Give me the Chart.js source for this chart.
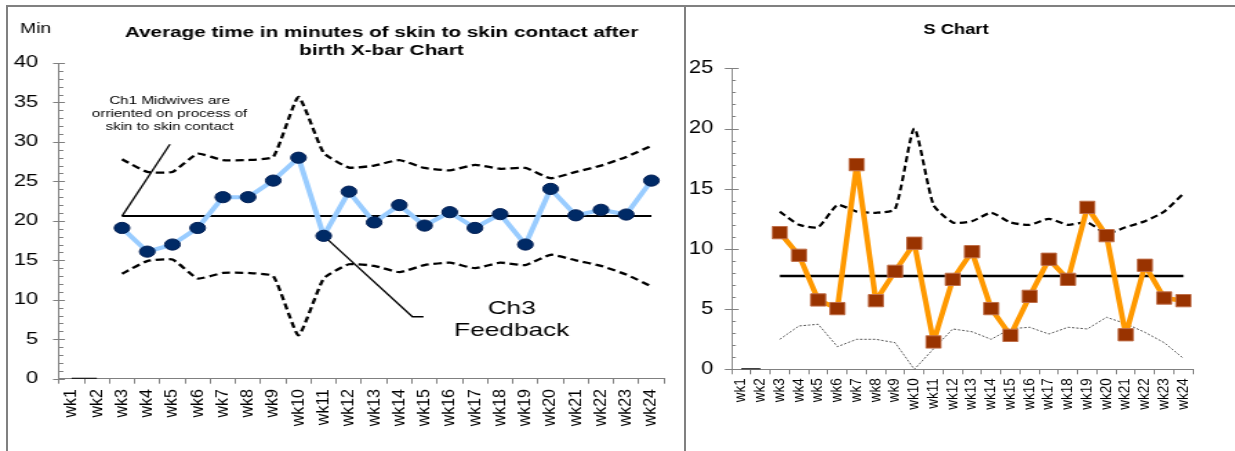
<!DOCTYPE html>
<html>
<head>
<meta charset="utf-8">
<script src="https://cdn.jsdelivr.net/npm/chart.js"></script>
<style>
  html, body { margin:0; padding:0; background:#fff; width:1235px; height:451px; overflow:hidden; }
  .wrap { position:absolute; top:0; transform-origin:0 0; }
  .panel { position:absolute; box-sizing:border-box; border:2px solid #808080; pointer-events:none; }
</style>
</head>
<body>
<div class="wrap" id="w1" style="left:0px; transform:scaleX(1.38);"><canvas id="c1" width="496" height="451"></canvas></div>
<div class="wrap" id="w2" style="left:684px; transform:scaleX(1.22);"><canvas id="c2" width="452" height="451"></canvas></div>
<div class="panel" style="left:6px; top:5px; width:680px; height:520px;"></div>
<div class="panel" style="left:684px; top:5px; width:620px; height:520px;"></div>
<script>
// ---------------- data ----------------
const weeks = ['wk1','wk2','wk3','wk4','wk5','wk6','wk7','wk8','wk9','wk10','wk11','wk12',
               'wk13','wk14','wk15','wk16','wk17','wk18','wk19','wk20','wk21','wk22','wk23','wk24'];

// X-bar chart (minutes)
const xbarMeans = [null,null,19.1,16.1,17.0,19.1,23.0,23.0,25.1,28.0,18.1,23.7,19.8,22.0,19.4,21.1,19.1,20.85,17.0,24.05,20.7,21.4,20.8,25.1];
const xbarCL    = [null,null,20.6,20.6,20.6,20.6,20.6,20.6,20.6,20.6,20.6,20.6,20.6,20.6,20.6,20.6,20.6,20.6,20.6,20.6,20.6,20.6,20.6,20.6];
const xbarUCL   = [null,null,27.8,26.2,26.2,28.5,27.7,27.7,28.1,35.7,28.6,26.75,27.0,27.7,26.7,26.4,27.1,26.6,26.7,25.4,26.2,27.0,28.1,29.5];
const xbarLCL   = [null,null,13.3,14.9,15.1,12.7,13.4,13.4,13.0,5.5,12.7,14.5,14.3,13.5,14.4,14.7,14.0,14.7,14.4,15.7,15.0,14.3,13.2,11.7];
const xbarZero  = [0,0,null,null,null,null,null,null,null,null,null,null,null,null,null,null,null,null,null,null,null,null,null,null];
const xbarTicks = { min:0, max:40, step:5 };

// S chart
const sValues = [null,null,11.35,9.47,5.76,5.04,17.0,5.7,8.14,10.47,2.27,7.47,9.77,5.04,2.82,6.06,9.14,7.47,13.45,11.1,2.87,8.64,5.92,5.7];
const sCL     = [null,null,7.75,7.75,7.75,7.75,7.75,7.75,7.75,7.75,7.75,7.75,7.75,7.75,7.75,7.75,7.75,7.75,7.75,7.75,7.75,7.75,7.75,7.75];
const sUCL    = [null,null,13.1,12.0,11.8,13.65,13.1,13.0,13.3,20.0,13.65,12.2,12.3,13.0,12.2,12.0,12.5,12.0,12.2,11.3,11.8,12.3,13.1,14.6];
const sLCL    = [null,null,2.49,3.6,3.74,1.88,2.49,2.49,2.21,0,1.7,3.35,3.12,2.49,3.37,3.49,2.93,3.49,3.35,4.32,3.79,3.07,2.21,0.91];
const sZero   = [0,0,null,null,null,null,null,null,null,null,null,null,null,null,null,null,null,null,null,null,null,null,null,null];
const sTicks  = { min:0, max:25, step:5 };

// texts
const xbarTitle = ['Average time in minutes of skin to skin contact after', 'birth X-bar Chart'];
const xbarUnit = 'Min';
const sTitle = ['S Chart'];
const note1 = ['Ch1 Midwives are', 'orriented on process of', 'skin to skin contact'];
const note3 = ['Ch3', 'Feedback'];

// ---------------- helpers ----------------
const FONT = "'Liberation Sans', Arial, Helvetica, sans-serif";
Chart.defaults.font.family = FONT;
Chart.defaults.color = '#000';
const AXIS = '#808080';

function line(ctx, pts, w, color) {
  ctx.save(); ctx.strokeStyle = color; ctx.lineWidth = w; ctx.beginPath();
  pts.forEach((p, i) => i ? ctx.lineTo(p[0], p[1]) : ctx.moveTo(p[0], p[1]));
  ctx.stroke(); ctx.restore();
}

function decor(cfg) {
  return {
    id: 'decor_' + cfg.name,
    beforeDatasetsDraw(chart) {
      if (cfg.under) cfg.under(chart);
    },
    afterDraw(chart) {
      const ctx = chart.ctx, xs = chart.scales.x, ys = chart.scales.y;
      const ax = chart.chartArea.left;
      ctx.save(); ctx.strokeStyle = AXIS; ctx.lineWidth = 1;
      for (let v = cfg.ticks.min; v <= cfg.ticks.max; v += 1) {
        const y = Math.round(ys.getPixelForValue(v)) + 0.5;
        ctx.beginPath();
        if (v % cfg.ticks.step === 0) { ctx.moveTo(ax - cfg.major, y); ctx.lineTo(ax + cfg.major, y); }
        else { ctx.moveTo(ax, y); ctx.lineTo(ax + cfg.minor, y); }
        ctx.stroke();
      }
      ctx.restore();
      ctx.save(); ctx.fillStyle = '#000'; ctx.font = cfg.xFont + 'px ' + FONT;
      weeks.forEach((w, i) => {
        const x = xs.getPixelForValue(i);
        ctx.save(); ctx.translate(x, xs.top + cfg.xPad); ctx.scale(cfg.xStretch / cfg.S, 1);
        ctx.rotate(-Math.PI / 2); ctx.textAlign = 'right'; ctx.textBaseline = 'middle';
        ctx.fillText(w, 0, 0); ctx.restore();
      });
      ctx.restore();
      if (cfg.over) cfg.over(chart);
    }
  };
}

function baseScales(t, yW, xH, xFont, yFont) {
  return {
    x: { type: 'category', offset: true,
         grid: { display: true, offset: true, drawOnChartArea: false, drawTicks: true, tickLength: 5, color: AXIS, lineWidth: 1 },
         border: { display: true, color: AXIS, width: 1 },
         ticks: { color: 'rgba(0,0,0,0)', autoSkip: false, minRotation: 90, maxRotation: 90, font: { size: xFont } },
         afterFit(s) { s.height = xH; } },
    y: { min: t.min, max: t.max,
         ticks: { stepSize: t.step, padding: 15, color: '#000', font: { size: yFont } },
         grid: { display: false, drawTicks: false },
         border: { display: true, color: AXIS, width: 1 },
         afterFit(s) { s.width = yW; } }
  };
}

// ---------------- X-bar chart ----------------
const S1 = 1.38;
new Chart(document.getElementById('c1'), {
  type: 'line',
  data: {
    labels: weeks,
    datasets: [
      { label: 'Mean', data: xbarMeans, order: 0, borderColor: '#99CCFF', borderWidth: 4, borderJoinStyle: 'round',
        pointRadius: 5.6, pointBackgroundColor: '#002a66', pointBorderColor: '#001f55', pointBorderWidth: 1, tension: 0 },
      { label: 'CL', data: xbarCL, order: 1, borderColor: '#000', borderWidth: 2, pointRadius: 0 },
      { label: 'UCL', data: xbarUCL, order: 2, borderColor: '#000', borderWidth: 2.3, borderDash: [6, 3.5], pointRadius: 0, tension: 0.15 },
      { label: 'LCL', data: xbarLCL, order: 2, borderColor: '#000', borderWidth: 2.3, borderDash: [6, 3.5], pointRadius: 0, tension: 0.15 },
      { label: 'base', data: xbarZero, order: 1, borderColor: '#000', borderWidth: 2, pointRadius: 0 }
    ]
  },
  options: {
    responsive: false, animation: false, devicePixelRatio: 1,
    layout: { padding: { left: 0, top: 63, right: 496 - 664 / S1, bottom: 0 } },
    plugins: { legend: { display: false }, tooltip: { enabled: false }, title: { display: false } },
    scales: baseScales(xbarTicks, 59 / S1, 451 - 378.7, 16, 16)
  },
  plugins: [decor({
    name: 'xbar', S: S1, ticks: xbarTicks, major: 4.3, minor: 3.2, xFont: 16, xPad: 10.3, xStretch: 1.08,
    under(chart) {
      const xs = chart.scales.x, ys = chart.scales.y;
      const P = (i, v) => [xs.getPixelForValue(i), ys.getPixelForValue(v)];
      line(chart.ctx, [P(2, xbarCL[2]), P(3.9, 29.7)], 1.3, '#000');
      line(chart.ctx, [P(10, xbarMeans[10]), P(13.52, 7.85), P(13.96, 7.85)], 1.3, '#000');
    },
    over(chart) {
      const ctx = chart.ctx, xs = chart.scales.x, ys = chart.scales.y;
      ctx.save(); ctx.fillStyle = '#000';
      ctx.font = 'bold 15px ' + FONT; ctx.textAlign = 'center'; ctx.textBaseline = 'alphabetic';
      ctx.fillText(xbarTitle[0], 381.5 / S1, 37.3);
      ctx.fillText(xbarTitle[1], 381.5 / S1, 55);
      ctx.font = '14px ' + FONT; ctx.textAlign = 'left';
      ctx.fillText(xbarUnit, 20 / S1, 33.3);
      ctx.font = '11px ' + FONT; ctx.textAlign = 'center';
      const n1 = [34.86, 33.22, 31.57];
      note1.forEach((t, i) => ctx.fillText(t, xs.getPixelForValue(3.885), ys.getPixelForValue(n1[i])));
      ctx.font = '19px ' + FONT;
      const n3 = [8.19, 5.4];
      note3.forEach((t, i) => ctx.fillText(t, xs.getPixelForValue(17.46), ys.getPixelForValue(n3[i])));
      ctx.restore();
    }
  })]
});

// ---------------- S chart ----------------
const S2 = 1.22;
new Chart(document.getElementById('c2'), {
  type: 'line',
  data: {
    labels: weeks,
    datasets: [
      { label: 'S', data: sValues, order: 0, borderColor: '#FF9900', borderWidth: 4.5, borderJoinStyle: 'round',
        pointStyle: 'rect', pointRadius: 8.7, pointBackgroundColor: '#993300', pointBorderColor: '#c0704a', pointBorderWidth: 1, tension: 0 },
      { label: 'CL', data: sCL, order: 1, borderColor: '#000', borderWidth: 2.5, pointRadius: 0 },
      { label: 'UCL', data: sUCL, order: 2, borderColor: '#000', borderWidth: 2.3, borderDash: [6, 3.5], pointRadius: 0, tension: 0.2 },
      { label: 'LCL', data: sLCL, order: 2, borderColor: '#444', borderWidth: 0.9, borderDash: [2, 1.5], pointRadius: 0, tension: 0 },
      { label: 'base', data: sZero, order: 1, borderColor: '#000', borderWidth: 2, pointRadius: 0 }
    ]
  },
  options: {
    responsive: false, animation: false, devicePixelRatio: 1,
    layout: { padding: { left: 0, top: 68.3, right: 452 - (1193 - 684) / S2, bottom: 0 } },
    plugins: { legend: { display: false }, tooltip: { enabled: false }, title: { display: false } },
    scales: baseScales(sTicks, (731.7 - 684) / S2, 451 - 369.3, 13.5, 18)
  },
  plugins: [decor({
    name: 's', S: S2, ticks: sTicks, major: 5.7, minor: 3.3, xFont: 13.5, xPad: 9, xStretch: 1.1,
    over(chart) {
      const ctx = chart.ctx;
      ctx.save(); ctx.fillStyle = '#000';
      ctx.font = 'bold 15px ' + FONT; ctx.textAlign = 'center'; ctx.textBaseline = 'alphabetic';
      ctx.fillText(sTitle[0], (956 - 684) / S2, 34);
      ctx.restore();
    }
  })]
});
</script>
</body>
</html>
